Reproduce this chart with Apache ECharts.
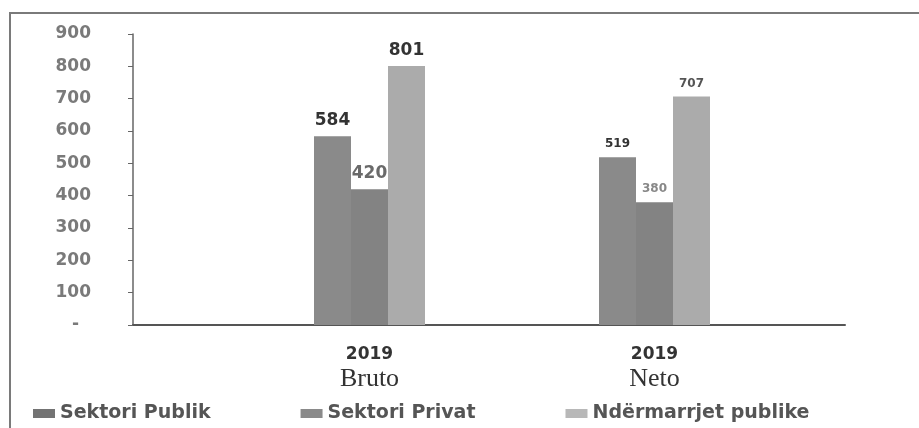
<!DOCTYPE html>
<html>
<head>
<meta charset="utf-8">
<script src="https://cdn.jsdelivr.net/npm/echarts@6/dist/echarts.min.js"></script>
<style>html,body{margin:0;padding:0;background:#fff}#c{width:919px;height:428px}</style>
</head>
<body>
<div id="c"></div>
<script>
var categories = ['Bruto', 'Neto'];
var categoryYears = ['2019', '2019'];
var seriesNames = ['Sektori Publik', 'Sektori Privat', 'Ndërmarrjet publike'];
var publik = [584, 519];
var privat = [420, 380];
var ndermarrjet = [801, 707];
var yTicks = [0, 100, 200, 300, 400, 500, 600, 700, 800, 900];

var colors = ['#8a8a8a', '#838383', '#ababab'];
var legendColors = ['#737373', '#8a8a8a', '#b8b8b8'];
var labelColors = [['#333', '#333'], ['#6a6a6a', '#888'], ['#333', '#555']];
var labelSizes = [17, 12];

function mkData(vals, si) {
  return vals.map(function (v, i) {
    return {
      value: v,
      label: { fontSize: labelSizes[i], color: labelColors[si][i] }
    };
  });
}

var chart = echarts.init(document.getElementById('c'));
var seriesVals = [publik, privat, ndermarrjet];
var series = seriesVals.map(function (vals, si) {
  return {
    name: seriesNames[si],
    type: 'bar',
    xAxisIndex: 0,
    yAxisIndex: 0,
    barWidth: 37,
    barGap: '0%',
    itemStyle: { color: colors[si] },
    label: {
      show: true,
      position: 'top',
      distance: 7,
      fontFamily: 'DejaVu Sans',
      fontWeight: 'bold'
    },
    data: mkData(vals, si)
  };
});

chart.setOption({
  animation: false,
  backgroundColor: '#fff',
  graphic: [{
    type: 'polyline',
    shape: { points: [[10, 428], [10, 13], [919, 13]] },
    style: { stroke: '#7a7a7a', lineWidth: 2, fill: null },
    silent: true
  }],
  legend: {
    left: 28,
    top: 399,
    itemWidth: 22,
    itemHeight: 9,
    itemGap: 90,
    icon: 'rect',
    textStyle: { fontFamily: 'DejaVu Sans', fontWeight: 'bold', fontSize: 19, color: '#555' },
    data: seriesNames.map(function (n, i) {
      return { name: n, itemStyle: { color: legendColors[i] } };
    })
  },
  grid: [
    { left: 227, width: 570, top: 34, bottom: 103 },
    { left: 133, right: 74, top: 34, bottom: 103 }
  ],
  xAxis: [{
    type: 'category',
    gridIndex: 0,
    data: categories,
    axisLine: { show: false },
    axisTick: { show: false },
    axisLabel: {
      margin: 19,
      formatter: function (v, i) { return '{y|' + categoryYears[i] + '}\n{n|' + v + '}'; },
      rich: {
        y: { fontFamily: 'DejaVu Sans', fontWeight: 'bold', fontSize: 17, color: '#333', lineHeight: 22 },
        n: { fontFamily: 'Liberation Serif', fontSize: 26, color: '#333', lineHeight: 27 }
      }
    }
  }, {
    type: 'value',
    gridIndex: 1,
    min: 0, max: 1,
    axisLine: { show: true, lineStyle: { color: '#555', width: 2 } },
    axisTick: { show: false },
    axisLabel: { show: false },
    splitLine: { show: false }
  }],
  yAxis: [{
    type: 'value',
    gridIndex: 0,
    min: 0, max: 900, interval: 100,
    show: false,
    splitLine: { show: false }
  }, {
    type: 'value',
    gridIndex: 1,
    min: yTicks[0], max: yTicks[yTicks.length - 1], interval: 100,
    axisLine: { show: true, lineStyle: { color: '#666', width: 1.5 } },
    axisTick: { show: true, length: 5, lineStyle: { color: '#666' } },
    splitLine: { show: false },
    axisLabel: {
      margin: 42,
      fontFamily: 'DejaVu Sans',
      fontWeight: 'bold',
      fontSize: 17,
      color: '#7a7a7a',
      formatter: function (v) { return v === 0 ? '-  ' : String(v); }
    }
  }],
  series: series
});
</script>
</body>
</html>
